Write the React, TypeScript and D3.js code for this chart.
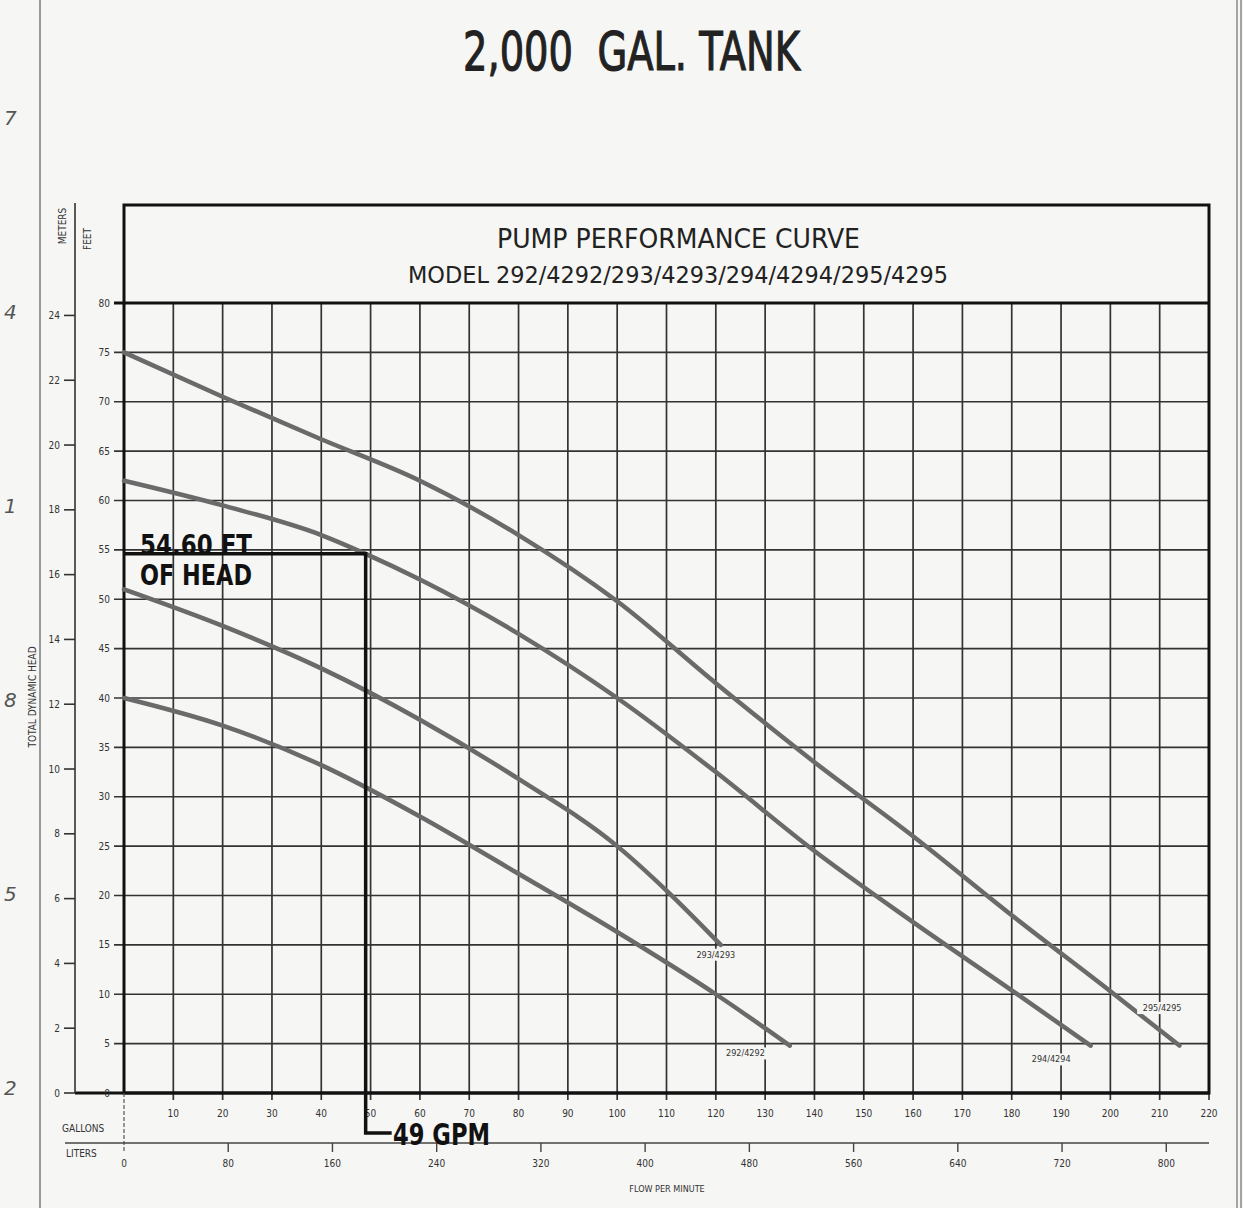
import * as d3 from 'd3';

// chart data, read from the scanned sheet
const gpmTicks = d3.range(10, 230, 10);
const literTicks = [0, 80, 160, 240, 320, 400, 480, 560, 640, 720, 800];
const feetTicks = d3.range(0, 85, 5);
const meterTicks = d3.range(0, 26, 2);
const marginDigits = ['7', '4', '1', '8', '5', '2'];

// [gpm, feet of head]
const curve292: [number, number][] = [[0, 40], [20, 37.2], [40, 33.2], [60, 28], [80, 22.2], [100, 16.3], [120, 10], [135, 4.8]];
const curve293: [number, number][] = [[0, 51], [20, 47.3], [40, 43], [60, 37.8], [80, 31.8], [100, 25], [110, 20.5], [121, 15]];
const curve294: [number, number][] = [[0, 62], [20, 59.5], [40, 56.5], [49, 54.6], [60, 52], [80, 46.5], [100, 40], [120, 32.5], [140, 24.5], [160, 17.3], [180, 10.4], [196, 4.8]];
const curve295: [number, number][] = [[0, 75], [20, 70.5], [40, 66.2], [60, 62], [80, 56.5], [100, 49.8], [120, 41.5], [140, 33.5], [160, 26], [180, 18], [200, 10.3], [214, 4.8]];

const curves = [
  { name: '292/4292', pts: curve292, label: [126, 3.7] },
  { name: '293/4293', pts: curve293, label: [120, 13.7] },
  { name: '294/4294', pts: curve294, label: [188, 3.1] },
  { name: '295/4295', pts: curve295, label: [210.5, 8.3] },
];

const opFlow = 49;
const opHead = 54.6;

const W = 1243;
const H = 1208;
const paper = '#f6f6f4';
const ink = '#222';
const narrow = '"Liberation Sans Narrow", "DejaVu Sans Condensed", "Liberation Sans", Arial, sans-serif';
const hand = '"DejaVu Sans", "Liberation Sans", sans-serif';

const App = () => {
  const x = d3.scaleLinear().domain([0, 220]).range([124, 1209]);
  const y = d3.scaleLinear().domain([0, 80]).range([1093, 303]);
  const yM = d3.scaleLinear().domain([0, 80 * 0.3048]).range([1093, 303]);
  const xL = d3.scaleLinear().domain([0, 220 * 3.78541]).range([124, 1209]);
  const boxTop = 205;
  const litersY = 1143;

  const line = d3.line<[number, number]>()
    .x(d => x(d[0]))
    .y(d => y(d[1]))
    .curve(d3.curveMonotoneX);

  return (
    <svg width={W} height={H} style={{ position: 'absolute', left: 0, top: 0, background: paper }}>
      <rect width={W} height={H} fill={paper} />
      {/* page edges */}
      <line x1={40} x2={40} y1={0} y2={H} stroke="#999" strokeWidth={2} />
      <line x1={1237} x2={1237} y1={0} y2={H} stroke="#888" strokeWidth={1.5} />
      <line x1={1241} x2={1241} y1={0} y2={H} stroke="#888" strokeWidth={1.5} />
      {marginDigits.map((d, i) => (
        <text key={i} x={4} y={125 + i * 194} fontFamily={hand} fontStyle="italic" fontSize={20} fill="#555">{d}</text>
      ))}

      {/* main title */}
      <text x={463} y={70} fontFamily={hand} fontSize={54} fill={ink} stroke={ink} strokeWidth={1.2}
        textLength={337} lengthAdjust="spacingAndGlyphs" style={{ whiteSpace: 'pre' }}>
        {'2,000  GAL. TANK'}
      </text>

      {/* grid */}
      <g stroke="#333" strokeWidth={1.7}>
        {gpmTicks.filter(t => t < 220).map(t => (
          <line key={'v' + t} x1={x(t)} x2={x(t)} y1={y(80)} y2={y(0) + 7} />
        ))}
        {feetTicks.filter(t => t > 0 && t < 80).map(t => (
          <line key={'h' + t} x1={x(0) - 10} x2={x(220)} y1={y(t)} y2={y(t)} />
        ))}
      </g>
      <line x1={x(220)} x2={x(220)} y1={y(0)} y2={y(0) + 7} stroke="#333" strokeWidth={1.6} />

      {/* header box and frame */}
      <rect x={x(0)} y={boxTop} width={x(220) - x(0)} height={y(0) - boxTop} fill="none" stroke="#111" strokeWidth={3} />
      <line x1={x(0) - 10} x2={x(220)} y1={y(80)} y2={y(80)} stroke="#111" strokeWidth={3} />
      <line x1={75} x2={x(220)} y1={y(0)} y2={y(0)} stroke="#111" strokeWidth={3} />
      <text x={497} y={248} fontFamily={narrow} fontSize={26} fill={ink} textLength={363} lengthAdjust="spacingAndGlyphs">PUMP PERFORMANCE CURVE</text>
      <text x={408} y={283} fontFamily={narrow} fontSize={23} fill={ink} textLength={540} lengthAdjust="spacingAndGlyphs">MODEL 292/4292/293/4293/294/4294/295/4295</text>

      {/* feet axis labels */}
      <g fontFamily={narrow} fontSize={10} fill="#333" textAnchor="end">
        {feetTicks.map(t => (
          <text key={'f' + t} x={110} y={y(t) + 3.5}>{t}</text>
        ))}
      </g>

      {/* meters axis */}
      <line x1={75} x2={75} y1={boxTop - 2} y2={y(0)} stroke="#333" strokeWidth={1.6} />
      {meterTicks.map(t => (
        <g key={'m' + t}>
          <line x1={64} x2={75} y1={yM(t)} y2={yM(t)} stroke="#333" strokeWidth={1.6} />
          <text x={60} y={yM(t) + 3.5} fontFamily={narrow} fontSize={10} fill="#333" textAnchor="end">{t}</text>
        </g>
      ))}
      <text transform="translate(66,226) rotate(-90)" fontFamily={narrow} fontSize={10} fill="#333" textAnchor="middle">METERS</text>
      <text transform="translate(91,239) rotate(-90)" fontFamily={narrow} fontSize={10} fill="#333" textAnchor="middle">FEET</text>
      <text transform="translate(36,697) rotate(-90)" fontFamily={narrow} fontSize={10} fill="#333" textAnchor="middle">TOTAL DYNAMIC HEAD</text>

      {/* gallons axis labels */}
      <g fontFamily={narrow} fontSize={10} fill="#333" textAnchor="middle">
        {gpmTicks.map(t => (
          <text key={'g' + t} x={x(t)} y={1117}>{t}</text>
        ))}
      </g>
      <text x={62} y={1132} fontFamily={narrow} fontSize={10} fill="#333">GALLONS</text>

      {/* liters axis */}
      <line x1={x(0)} x2={x(0)} y1={y(0)} y2={litersY + 8} stroke="#555" strokeWidth={1.2} strokeDasharray="4 2" />
      <line x1={65} x2={x(220)} y1={litersY} y2={litersY} stroke="#444" strokeWidth={1.6} />
      {literTicks.map(t => (
        <g key={'l' + t}>
          {t > 0 && <line x1={xL(t)} x2={xL(t)} y1={litersY} y2={litersY + 9} stroke="#444" strokeWidth={1.4} />}
          <text x={xL(t)} y={1167} fontFamily={narrow} fontSize={10} fill="#333" textAnchor="middle">{t}</text>
        </g>
      ))}
      <text x={66} y={1157} fontFamily={narrow} fontSize={10} fill="#333">LITERS</text>
      <text x={667} y={1192} fontFamily={narrow} fontSize={9} fill="#333" textAnchor="middle">FLOW PER MINUTE</text>

      {/* pump curves */}
      {curves.map(c => (
        <path key={c.name} d={line(c.pts) || ''} fill="none" stroke="#6a6a6a" strokeWidth={4.5} strokeLinecap="round" />
      ))}
      {curves.map(c => (
        <g key={'lab' + c.name}>
          <rect x={x(c.label[0]) - 25} y={y(c.label[1]) - 9} width={50} height={12} fill={paper} />
          <text x={x(c.label[0])} y={y(c.label[1])} fontFamily={narrow} fontSize={9} fill="#333" textAnchor="middle">{c.name}</text>
        </g>
      ))}

      {/* operating point annotation */}
      <path
        d={`M${x(0)},${y(opHead)}H${x(opFlow)}V${1133}H${x(opFlow) + 26}`}
        fill="none" stroke="#111" strokeWidth={3.5}
      />
      <text x={140} y={555} fontFamily={hand} fontWeight="bold" fontSize={28} fill="#111" textLength={112} lengthAdjust="spacingAndGlyphs">54.60 FT</text>
      <text x={140} y={585} fontFamily={hand} fontWeight="bold" fontSize={28} fill="#111" textLength={112} lengthAdjust="spacingAndGlyphs">OF HEAD</text>
      <text x={393} y={1145} fontFamily={hand} fontWeight="bold" fontSize={30} fill="#111" textLength={97} lengthAdjust="spacingAndGlyphs">49 GPM</text>
    </svg>
  );
};

export default App;
